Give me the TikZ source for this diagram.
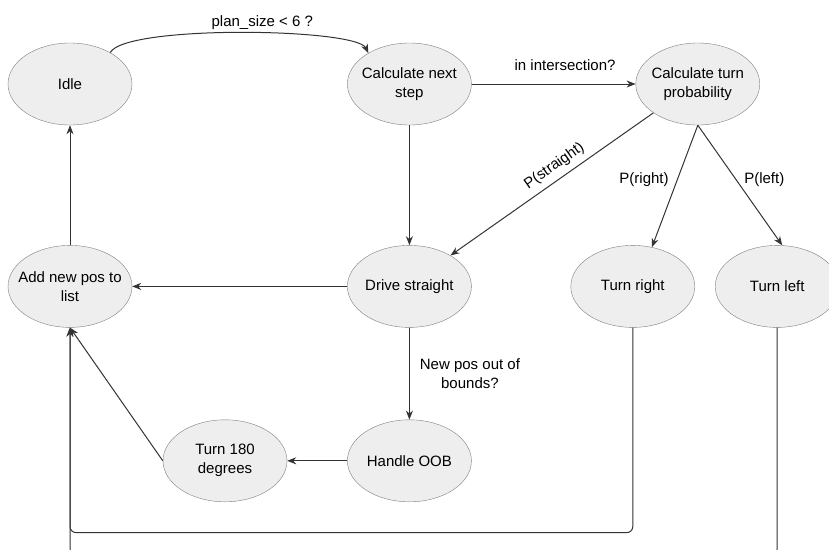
\documentclass[tikz,border=0pt]{standalone}
\usepackage{fontspec}
\setmainfont{Liberation Sans}
\usepackage{tikz}
\usetikzlibrary{arrows.meta, positioning, shapes.geometric}

\definecolor{statefill}{HTML}{EEEEEE}
\definecolor{stateline}{HTML}{7F7F7F}
\definecolor{edgeline}{HTML}{333333}

\begin{document}
\begin{tikzpicture}[
    x=1pt, y=1pt,
    state/.style={ellipse, draw=stateline, fill=statefill, minimum width=124pt, minimum height=82pt, inner xsep=-9pt, inner ysep=0pt, align=center, font=\fontsize{15}{19}\selectfont},
    lbl/.style={font=\fontsize{15}{19}\selectfont, align=center, inner sep=2pt},
    edge/.style={draw=edgeline, line width=1pt},
    >={Stealth[length=9pt, width=7pt]}
]
\clip (0,0) rectangle (829,-549);
\node[state] (idle) at (70,-84) {Idle};
\node[state, right=215pt of idle] (calcnext) {Calculate next\\step};
\node[state, right=164pt of calcnext] (calcturn) {Calculate turn\\probability};
\node[state, below=120pt of calcnext] (drive) {Drive straight};
\node[state, left=215pt of drive] (addpos) {Add new pos to\\list};
\node[state, right=99pt of drive] (tright) {Turn right};
\node[state, right=20pt of tright] (tleft) {Turn left};
\node[state, below=92pt of drive] (oob) {Handle OOB};
\node[state, left=60pt of oob] (turn180) {Turn 180\\degrees};

\draw[edge, ->] (idle.38) .. controls +(15,28) and +(-12,25) .. (calcnext.143)
    node[lbl, pos=0.56, above=1pt] {plan\_size < 6 ?};
\draw[edge, ->] (calcnext) -- (calcturn) node[lbl, pos=0.57, above=11pt] {in intersection?};
\draw[edge, ->] (calcnext) -- (drive);
\draw[edge, ->] (calcturn.213) -- (drive.37) node[lbl, pos=0.45, sloped, above=4pt] {P(straight)};
\draw[edge, ->] (calcturn.south) -- (tright.64) node[lbl, pos=0.45, left=6pt] {P(right)};
\draw[edge, ->] (calcturn.south) -- (tleft.83) node[lbl, pos=0.45, right=6pt] {P(left)};
\draw[edge, ->] (drive) -- (addpos);
\draw[edge, ->] (drive) -- (oob) node[lbl, midway, right=8pt] {New pos out of\\bounds?};
\draw[edge, ->] (oob) -- (turn180);
\draw[edge, ->] (turn180.west) -- (addpos.south);
\draw[edge, ->] (addpos) -- (idle);
\draw[edge, ->, rounded corners=6pt] (tright.south) -- ++(0,-205) -| (addpos.south);
\draw[edge, ->, rounded corners=6pt] (tleft.south) -- ++(0,-227) -| (addpos.south);
\end{tikzpicture}
\end{document}
